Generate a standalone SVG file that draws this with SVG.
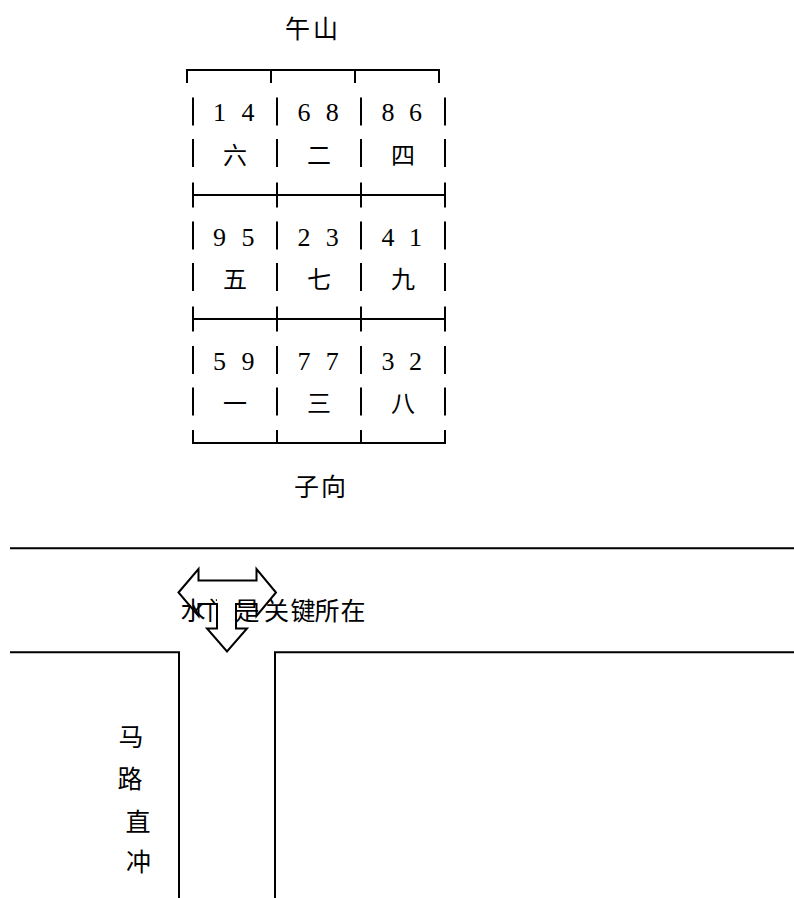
<svg xmlns="http://www.w3.org/2000/svg" width="794" height="898" viewBox="0 0 794 898">
<style>
.ln{stroke:#000;stroke-width:2;fill:none;stroke-linejoin:miter}
.cjk{font-family:"Noto Sans CJK SC","Noto Sans",sans-serif;fill:#000}
.num{font-family:"Liberation Serif","DejaVu Serif",serif;font-size:26px;fill:#000;text-anchor:middle}
.cell{font-size:24px;text-anchor:middle}
.big{font-size:25px}
</style>
<rect width="794" height="898" fill="#fff"/>

<g id="label-wu-shan">
<text class="cjk big" x="285" y="37.5" letter-spacing="3">午山</text>
</g>

<g id="grid">
<path class="ln" d="M187 83 V70 H439 V83 M271 70 V83 M355 70 V83"/>
<path class="ln" d="M193 97.5 V125.5 M193 139 V167 M193 182.5 V207.5 M193 221.5 V249.5 M193 263 V291 M193 306.5 V331.5 M193 346 V374 M193 387.5 V415.5
M277 97.5 V125.5 M277 139 V167 M277 182.5 V207.5 M277 221.5 V249.5 M277 263 V291 M277 306.5 V331.5 M277 346 V374 M277 387.5 V415.5 M277 430 V443
M361 97.5 V125.5 M361 139 V167 M361 182.5 V207.5 M361 221.5 V249.5 M361 263 V291 M361 306.5 V331.5 M361 346 V374 M361 387.5 V415.5 M361 430 V443
M445 97.5 V125.5 M445 139 V167 M445 182.5 V207.5 M445 221.5 V249.5 M445 263 V291 M445 306.5 V331.5 M445 346 V374 M445 387.5 V415.5
M193 195 H445 M193 319 H445 M193 430 V443 H445 V430"/>
</g>

<g id="cell-1-1"><text class="num" x="219.5" y="121.4">1</text><text class="num" x="248" y="121.4">4</text><text class="cjk cell" x="235" y="163.8">六</text></g>
<g id="cell-1-2"><text class="num" x="304" y="121.4">6</text><text class="num" x="332.3" y="121.4">8</text><text class="cjk cell" x="319" y="163.8">二</text></g>
<g id="cell-1-3"><text class="num" x="388" y="121.4">8</text><text class="num" x="415.5" y="121.4">6</text><text class="cjk cell" x="403" y="163.8">四</text></g>

<g id="cell-2-1"><text class="num" x="219.5" y="245.6">9</text><text class="num" x="248" y="245.6">5</text><text class="cjk cell" x="235" y="288.1">五</text></g>
<g id="cell-2-2"><text class="num" x="304" y="245.6">2</text><text class="num" x="332.3" y="245.6">3</text><text class="cjk cell" x="319" y="288.1">七</text></g>
<g id="cell-2-3"><text class="num" x="388" y="245.6">4</text><text class="num" x="415.5" y="245.6">1</text><text class="cjk cell" x="403" y="288.1">九</text></g>

<g id="cell-3-1"><text class="num" x="219.5" y="369.9">5</text><text class="num" x="248" y="369.9">9</text><text class="cjk cell" x="235" y="412.3">一</text></g>
<g id="cell-3-2"><text class="num" x="304" y="369.9">7</text><text class="num" x="332.3" y="369.9">7</text><text class="cjk cell" x="319" y="412.3">三</text></g>
<g id="cell-3-3"><text class="num" x="388" y="369.9">3</text><text class="num" x="415.5" y="369.9">2</text><text class="cjk cell" x="403" y="412.3">八</text></g>

<g id="label-zi-xiang">
<text class="cjk big" x="294" y="496" letter-spacing="2">子向</text>
</g>

<g id="road">
<path class="ln" d="M10 548.3 H794 M10 652.3 H179 V898 M275 898 V652.3 H794"/>
</g>

<g id="label-water-gate">
<text class="cjk big" x="180.5 207 234.5 264 290.5 314.5 340.5" y="619.5">水门是关键所在</text>
</g>

<g id="arrow">
<path d="M217 580.5 H236 V628.5 H247 L227 651.5 L207 628.5 H217 Z" fill="#fff" stroke="none"/>
<path class="ln" d="M178.5 592.5 L198.5 569 V580.5 H256.5 V569 L276 592.5 L256.5 616 V604 H236 V628.5 H247 L227 651.5 L207 628.5 H217 V604 H198.5 V616 Z"/>
</g>

<g id="label-road">
<text class="cjk big" x="131 130 138 138.5" y="746.2 787.5 831.2 871.2" text-anchor="middle">马路直冲</text>
</g>
</svg>
